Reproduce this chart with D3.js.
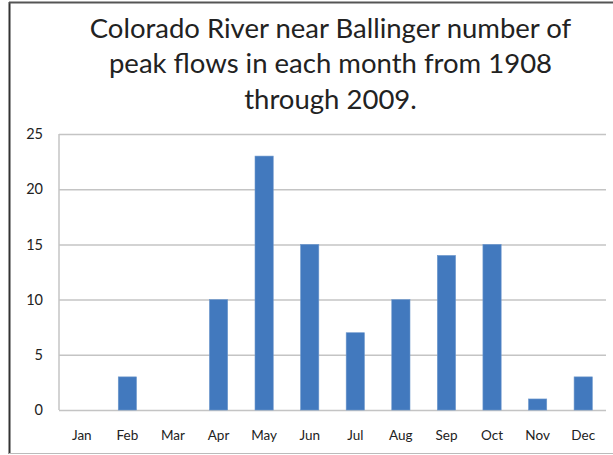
<!DOCTYPE html>
<html lang="en"><head>
<meta charset="utf-8">
<script src="https://d3js.org/d3.v7.min.js"></script>
<style>
  body { margin: 0; background: #fff; }
  svg text { font-family: Lato, "Open Sans", sans-serif; }
</style>
</head>
<body>
<div id="chart"></div>
<script>
const months = ["Jan","Feb","Mar","Apr","May","Jun","Jul","Aug","Sep","Oct","Nov","Dec"];
const peaks  = [0, 3, 0, 10, 23, 15, 7, 10, 14, 15, 1, 3];
const yTicks = [0, 5, 10, 15, 20, 25];
const titleLines = ["Colorado River near Ballinger number of",
                    "peak flows in each month from 1908",
                    "through 2009."];

const W = 613, H = 455;
const margin = {top: 134, right: 7, bottom: 45, left: 59};
const width = W - margin.left - margin.right,
      height = H - margin.top - margin.bottom;

const svg = d3.select("#chart").append("svg")
  .attr("width", W).attr("height", H);

// outer chart frame
svg.append("line").attr("x1", 9.5).attr("x2", 9.5).attr("y1", 2).attr("y2", 454)
  .attr("stroke", "#333").attr("stroke-width", 2);
svg.append("line").attr("x1", 9).attr("x2", W).attr("y1", 2.5).attr("y2", 2.5)
  .attr("stroke", "#555").attr("stroke-width", 2);
svg.append("line").attr("x1", 9).attr("x2", W).attr("y1", 453.5).attr("y2", 453.5)
  .attr("stroke", "#bbb").attr("stroke-width", 1);

// title
svg.append("text")
  .attr("text-anchor", "middle")
  .attr("font-size", 27.5)
  .attr("fill", "#222")
  .selectAll("tspan").data(titleLines).join("tspan")
    .attr("x", 330.5)
    .attr("y", (d, i) => 37.5 + i * 35.5)
    .text(d => d);

const g = svg.append("g").attr("transform", `translate(${margin.left},${margin.top})`);

const x = d3.scaleBand().domain(months).range([0, width])
  .paddingInner(0.6).paddingOuter(0.3);
const y = d3.scaleLinear().domain([0, 25]).range([height, 0]);

// gridlines
g.append("g")
  .call(d3.axisLeft(y).tickValues(yTicks).tickSize(-width).tickFormat(""))
  .call(a => a.select(".domain").remove())
  .selectAll("line").attr("stroke", "#c4c4c4").attr("stroke-width", 1.5);

// y axis line
g.append("line").attr("x1", 0).attr("x2", 0).attr("y1", 0).attr("y2", height)
  .attr("stroke", "#c4c4c4").attr("stroke-width", 1.5);

// y tick labels
g.append("g")
  .call(d3.axisLeft(y).tickValues(yTicks).tickSize(0).tickPadding(16))
  .call(a => a.select(".domain").remove())
  .selectAll("text")
    .attr("font-size", 14.5).attr("fill", "#222")
    .style("font-family", "Lato, sans-serif");

// bars
g.selectAll("rect.bar").data(months).join("rect")
  .attr("class", "bar")
  .attr("x", d => x(d))
  .attr("y", (d, i) => y(peaks[i]))
  .attr("width", x.bandwidth())
  .attr("height", (d, i) => height - y(peaks[i]))
  .attr("fill", "#4279be")
  .attr("stroke", "#6d97cc").attr("stroke-width", 0.6);

// x axis labels
g.append("g")
  .attr("transform", `translate(0,${height})`)
  .call(d3.axisBottom(x).tickSize(0).tickPadding(20))
  .call(a => a.select(".domain").remove())
  .selectAll("text")
    .attr("font-size", 13.5).attr("fill", "#222")
    .style("font-family", "Lato, sans-serif");
</script>
</body>
</html>
